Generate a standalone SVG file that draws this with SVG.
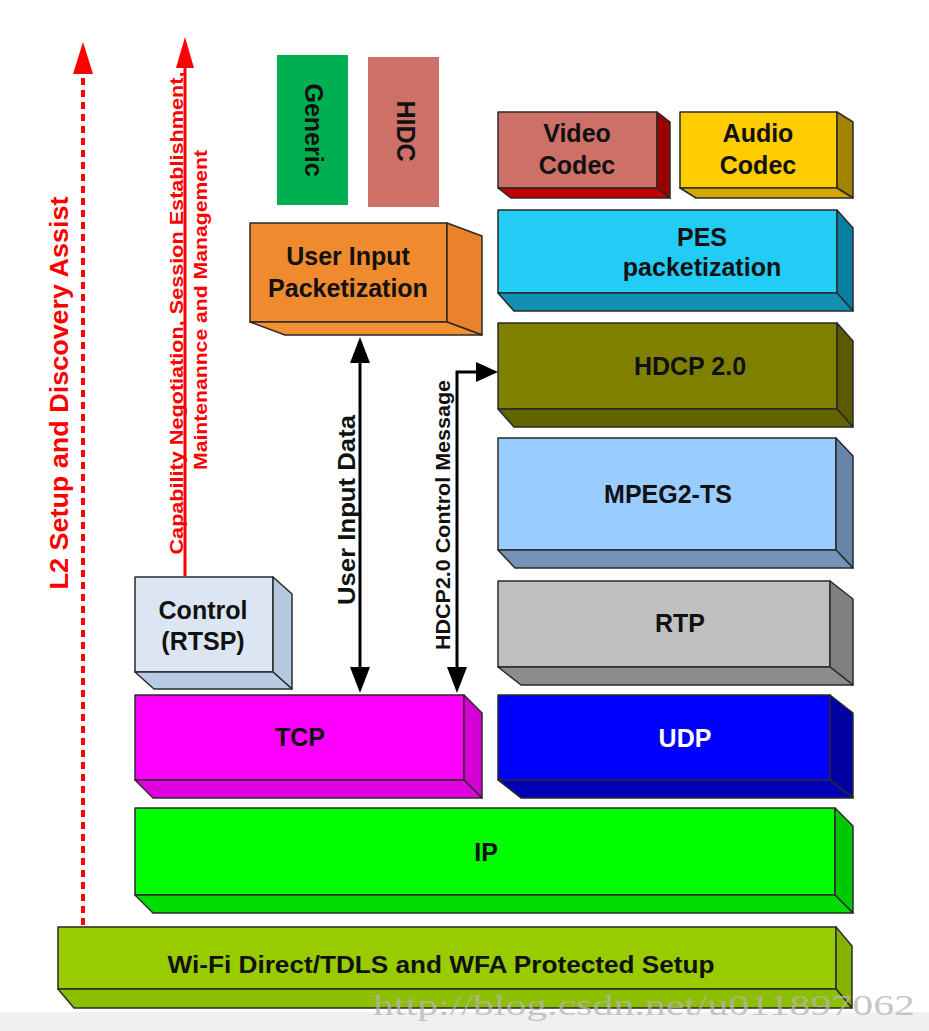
<svg xmlns="http://www.w3.org/2000/svg" width="929" height="1031" viewBox="0 0 929 1031">
<defs>
<style>
.o{stroke:#2a2a2a;stroke-width:1.5;stroke-linejoin:round}
.t{font-family:"Liberation Sans",Arial,sans-serif;font-weight:bold;fill:#111;text-anchor:middle}
.b{font-size:25px}
.red{fill:#ff0000}
.blk{stroke:#000;stroke-width:3;fill:none}
</style>
<marker id="ah" viewBox="0 0 10 10" refX="10" refY="5" markerWidth="7" markerHeight="7" markerUnits="userSpaceOnUse" orient="auto"><path d="M0,0 L10,5 L0,10 z" fill="#000"/></marker>
</defs>
<rect width="929" height="1031" fill="#ffffff"/>
<rect x="0" y="1012" width="929" height="19" fill="#f0f0f0"/>

<g id="wifi">
<rect class="o" x="58" y="927" width="778" height="62" fill="#99cc00"/>
<polygon class="o" points="836,927 852,946 852,1008 836,989" fill="#86b300"/>
<polygon class="o" points="58,989 836,989 852,1008 74,1008" fill="#8cbf00"/>
<text class="t" x="441" y="973" font-size="23" textLength="547" lengthAdjust="spacingAndGlyphs">Wi-Fi Direct/TDLS and WFA Protected Setup</text>
</g>

<g id="ip">
<rect class="o" x="135" y="808" width="700" height="87" fill="#00ff00"/>
<polygon class="o" points="835,808 853,826 853,913 835,895" fill="#00c800"/>
<polygon class="o" points="135,895 835,895 853,913 153,913" fill="#00dd00"/>
<text class="t b" x="486" y="861">IP</text>
</g>

<g id="tcp">
<rect class="o" x="135" y="695" width="329" height="85" fill="#ff00ff"/>
<polygon class="o" points="464,695 482,713 482,798 464,780" fill="#d400d4"/>
<polygon class="o" points="135,780 464,780 482,798 153,798" fill="#e000e0"/>
<text class="t b" x="300" y="746">TCP</text>
</g>

<g id="udp">
<rect class="o" x="498" y="695" width="332" height="85" fill="#0000ff"/>
<polygon class="o" points="830,695 853,713 853,798 830,780" fill="#0000a0"/>
<polygon class="o" points="498,780 830,780 853,798 521,798" fill="#0000b4"/>
<text class="t b" x="685" y="747" style="fill:#ffffff">UDP</text>
</g>

<g id="rtp">
<rect class="o" x="498" y="581" width="332" height="86" fill="#c0c0c0"/>
<polygon class="o" points="830,581 853,599 853,685 830,667" fill="#808080"/>
<polygon class="o" points="498,667 830,667 853,685 521,685" fill="#8c8c8c"/>
<text class="t b" x="680" y="632">RTP</text>
</g>

<g id="mpeg2ts">
<rect class="o" x="498" y="438" width="338" height="112" fill="#99ccff"/>
<polygon class="o" points="836,438 853,456 853,568 836,550" fill="#6685a8"/>
<polygon class="o" points="498,550 836,550 853,568 515,568" fill="#7493b8"/>
<text class="t b" x="668" y="503">MPEG2-TS</text>
</g>

<g id="hdcp">
<rect class="o" x="498" y="323" width="339" height="86" fill="#808000"/>
<polygon class="o" points="837,323 853,341 853,427 837,409" fill="#5a5a00"/>
<polygon class="o" points="498,409 837,409 853,427 514,427" fill="#636300"/>
<text class="t b" x="690" y="375">HDCP 2.0</text>
</g>

<g id="pes">
<rect class="o" x="498" y="210" width="339" height="83" fill="#22ccf5"/>
<polygon class="o" points="837,210 853,228 853,311 837,293" fill="#0a7ea0"/>
<polygon class="o" points="498,293 837,293 853,311 514,311" fill="#1290b4"/>
<text class="t b" x="702" y="246">PES</text>
<text class="t b" x="702" y="276">packetization</text>
</g>

<g id="video">
<rect class="o" x="498" y="112" width="159" height="76" fill="#cc7068"/>
<polygon class="o" points="657,112 670,122 670,198 657,188" fill="#990000"/>
<polygon class="o" points="498,188 657,188 670,198 511,198" fill="#c00000"/>
<text class="t b" x="577" y="142">Video</text>
<text class="t b" x="577" y="174">Codec</text>
</g>

<g id="audio">
<rect class="o" x="680" y="112" width="157" height="76" fill="#ffcc00"/>
<polygon class="o" points="837,112 853,122 853,198 837,188" fill="#a38300"/>
<polygon class="o" points="680,188 837,188 853,198 696,198" fill="#d4a800"/>
<text class="t b" x="758" y="142">Audio</text>
<text class="t b" x="758" y="174">Codec</text>
</g>

<g id="control">
<rect class="o" x="135" y="577" width="138" height="95" fill="#dce6f2"/>
<polygon class="o" points="273,577 292,594 292,689 273,672" fill="#b4c8e0"/>
<polygon class="o" points="135,672 273,672 292,689 154,689" fill="#b8cbe2"/>
<text class="t b" x="203" y="619">Control</text>
<text class="t b" x="203" y="650">(RTSP)</text>
</g>

<g id="uip">
<rect class="o" x="250" y="223" width="197" height="99" fill="#f08a2e"/>
<polygon class="o" points="447,223 482,236 482,335 447,322" fill="#e9822a"/>
<polygon class="o" points="250,322 447,322 482,335 285,335" fill="#f29032"/>
<text class="t b" x="348" y="265">User Input</text>
<text class="t b" x="348" y="297">Packetization</text>
</g>

<g id="generic">
<rect x="277" y="55" width="71" height="150" fill="#00b050"/>
<text class="t b" transform="translate(305,130) rotate(90)">Generic</text>
</g>

<g id="hidc">
<rect x="368" y="57" width="71" height="150" fill="#cc7068"/>
<text class="t b" transform="translate(397,131) rotate(90)">HIDC</text>
</g>

<g id="connectors">
<line x1="83" y1="925" x2="83" y2="72" stroke="#ff0000" stroke-width="4" stroke-dasharray="7,5"/>
<polygon points="83,42 73,74 93,74" fill="#ff0000"/>
<line x1="185" y1="576" x2="185" y2="66" stroke="#ff0000" stroke-width="3"/>
<polygon points="185,37 176,68 194,68" fill="#ff0000"/>
<line class="blk" x1="360" y1="360" x2="360" y2="670"/>
<polygon points="360,337 350,363 370,363" fill="#000"/>
<polygon points="360,693 350,667 370,667" fill="#000"/>
<polyline class="blk" points="457,670 457,372 480,372"/>
<polygon points="457,693 447,667 467,667" fill="#000"/>
<polygon points="498,372 476,362 476,382" fill="#000"/>
</g>

<g id="labels">
<text class="t red" font-size="26" textLength="393" lengthAdjust="spacingAndGlyphs" transform="translate(68,393) rotate(-90)">L2 Setup and Discovery Assist</text>
<text class="t red" font-size="18" textLength="483" lengthAdjust="spacingAndGlyphs" transform="translate(183,313) rotate(-90)">Capability Negotiation, Session Establishment,</text>
<text class="t red" font-size="18" textLength="320" lengthAdjust="spacingAndGlyphs" transform="translate(207,310) rotate(-90)">Maintenannce and Management</text>
<text class="t" font-size="24" textLength="190" lengthAdjust="spacingAndGlyphs" transform="translate(355,510) rotate(-90)">User Input Data</text>
<text class="t" font-size="20" textLength="270" lengthAdjust="spacingAndGlyphs" transform="translate(450,515) rotate(-90)">HDCP2.0 Control Message</text>
</g>

<text x="644" y="1015" font-family="'Liberation Serif',serif" font-size="30" fill="#b4b4b4" fill-opacity="0.75" text-anchor="middle" textLength="542" lengthAdjust="spacingAndGlyphs">http://blog.csdn.net/u011897062</text>
</svg>
